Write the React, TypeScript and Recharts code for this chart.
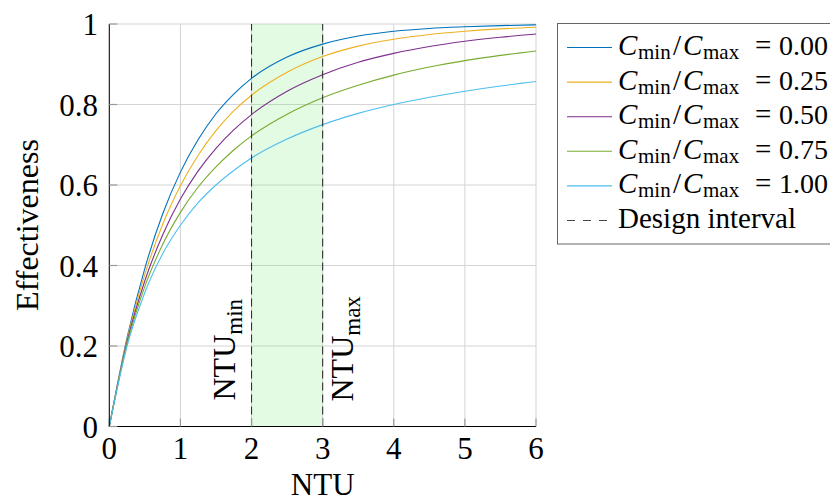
import React from 'react';
import { LineChart, Line, XAxis, YAxis, CartesianGrid, ReferenceArea, ReferenceLine, Label } from 'recharts';

// NTU sample points and effectiveness
const ntu = [0, 0.25, 0.5, 0.75, 1, 1.25, 1.5, 1.75, 2, 2.5, 3, 3.5, 4, 4.5, 5, 5.5, 6];
const eff000 = [0, 0.221, 0.393, 0.528, 0.632, 0.713, 0.777, 0.826, 0.865, 0.918, 0.95, 0.97, 0.982, 0.989, 0.993, 0.996, 0.998];
const eff025 = [0, 0.216, 0.378, 0.502, 0.598, 0.674, 0.735, 0.784, 0.823, 0.88, 0.919, 0.945, 0.962, 0.974, 0.982, 0.988, 0.992];
const eff050 = [0, 0.21, 0.362, 0.476, 0.565, 0.635, 0.691, 0.737, 0.775, 0.833, 0.874, 0.905, 0.927, 0.944, 0.957, 0.967, 0.975];
const eff075 = [0, 0.205, 0.348, 0.452, 0.532, 0.595, 0.645, 0.687, 0.722, 0.776, 0.817, 0.848, 0.873, 0.893, 0.909, 0.922, 0.933];
const eff100 = [0, 0.2, 0.333, 0.429, 0.5, 0.556, 0.6, 0.636, 0.667, 0.714, 0.75, 0.778, 0.8, 0.818, 0.833, 0.846, 0.857];

const ratios = ['0.00', '0.25', '0.50', '0.75', '1.00'];
const colors = ['#0072BD', '#EDB120', '#7E2F8E', '#77AC30', '#4DBEEE'];
const seriesValues = [eff000, eff025, eff050, eff075, eff100];

const xTicks = [0, 1, 2, 3, 4, 5, 6];
const yTicks = [0, 0.2, 0.4, 0.6, 0.8, 1];
const ntuMin = 2;
const ntuMax = 3;

const data = ntu.map((n, i) => {
  const row: Record<string, number> = { ntu: n };
  seriesValues.forEach((vals, k) => {
    row['s' + k] = vals[i];
  });
  return row;
});

const FONT = '"Liberation Serif", "Times New Roman", serif';

function VertLabel(props: any, name: string, sub: string, dx: number, dyBottom: number) {
  const { x, y, height } = props.viewBox;
  const px = x + dx;
  const py = y + height - dyBottom;
  return (
    <text x={px} y={py} transform={`rotate(-90 ${px} ${py})`} fontFamily={FONT} fill="#000" textAnchor="start">
      <tspan fontSize={32}>{name}</tspan>
      <tspan fontSize={23} dy={6.7}>{sub}</tspan>
    </text>
  );
}

function LegendBox() {
  const rowY = (i: number) => 32 + i * 34.6;
  return (
    <svg width={273} height={222} style={{ display: 'block' }}>
      <rect x={0.5} y={0.5} width={300} height={220.5} fill="#fff" stroke="#666" strokeWidth={1} />
      {ratios.map((r, i) => (
        <g key={r}>
          <line x1={10} x2={55} y1={rowY(i) - 7.5} y2={rowY(i) - 7.5} stroke={colors[i]} strokeWidth={1.1} />
          <text y={rowY(i)} fontFamily={FONT} fontSize={29} fill="#000">
            <tspan x={61} fontStyle="italic">C</tspan>
            <tspan x={81} fontSize={21} dy={4}>min</tspan>
            <tspan x={116} dy={-4}>/</tspan>
            <tspan x={126} fontStyle="italic">C</tspan>
            <tspan x={146} fontSize={21} dy={4}>max</tspan>
            <tspan x={198} dy={-4}>=</tspan>
            <tspan x={222} fontSize={28}>{r}</tspan>
          </text>
        </g>
      ))}
      <line x1={10} x2={55} y1={rowY(5) - 7.5} y2={rowY(5) - 7.5} stroke="#444" strokeWidth={1.1} strokeDasharray="8 8" />
      <text x={61} y={rowY(5)} fontFamily={FONT} fontSize={29} fill="#000">Design interval</text>
    </svg>
  );
}

export default function App() {
  const tickStyle = { fontSize: 31, fill: '#000', fontFamily: FONT };
  return (
    <div style={{ width: 830, height: 503, overflow: 'hidden', position: 'relative', background: '#fff' }}>
      <style>{'body{margin:0}'}</style>
      <LineChart width={830} height={503} data={data} margin={{ top: 24, right: 294, bottom: 0, left: 9.3 }}>
        <CartesianGrid stroke="#d4d4d4" strokeWidth={1} />
        <ReferenceArea x1={ntuMin} x2={ntuMax} y1={0} y2={1} fill="rgb(115,235,115)" fillOpacity={0.2} stroke="none" />
        <XAxis
          dataKey="ntu"
          type="number"
          domain={[0, 6]}
          ticks={xTicks}
          height={76.5}
          axisLine={{ stroke: '#000', strokeWidth: 1 }}
          tickLine={{ stroke: '#9a9a9a', strokeWidth: 1.2 }}
          tickSize={-8}
          tickMargin={18}
          tick={tickStyle}
          interval={0}
        >
          <Label
            content={() => (
              <text x={322.7} y={495} textAnchor="middle" fontFamily={FONT} fontSize={31} fill="#000">NTU</text>
            )}
          />
        </XAxis>
        <YAxis
          type="number"
          domain={[0, 1]}
          ticks={yTicks}
          width={100}
          axisLine={{ stroke: '#000', strokeWidth: 1 }}
          tickLine={{ stroke: '#9a9a9a', strokeWidth: 1.2 }}
          tickSize={-8}
          tickMargin={19.3}
          tick={tickStyle}
          interval={0}
        >
          <Label
            content={() => (
              <text x={37.7} y={225} transform="rotate(-90 37.7 225)" textAnchor="middle" fontFamily={FONT} fontSize={32} fill="#000">
                Effectiveness
              </text>
            )}
          />
        </YAxis>
        {seriesValues.map((_, k) => (
          <Line
            key={k}
            type="monotone"
            dataKey={'s' + k}
            stroke={colors[k]}
            strokeWidth={1.1}
            dot={false}
            activeDot={false}
            isAnimationActive={false}
          />
        ))}
        <ReferenceLine
          x={ntuMin}
          stroke="#333"
          strokeWidth={1.1}
          strokeDasharray="8 4"
          label={(p: any) => VertLabel(p, 'NTU', 'min', -16.7, 26)}
        />
        <ReferenceLine
          x={ntuMax}
          stroke="#333"
          strokeWidth={1.1}
          strokeDasharray="8 4"
          label={(p: any) => VertLabel(p, 'NTU', 'max', 30.6, 25)}
        />
      </LineChart>
      <div style={{ position: 'absolute', left: 557, top: 23 }}>
        <LegendBox />
      </div>
    </div>
  );
}
